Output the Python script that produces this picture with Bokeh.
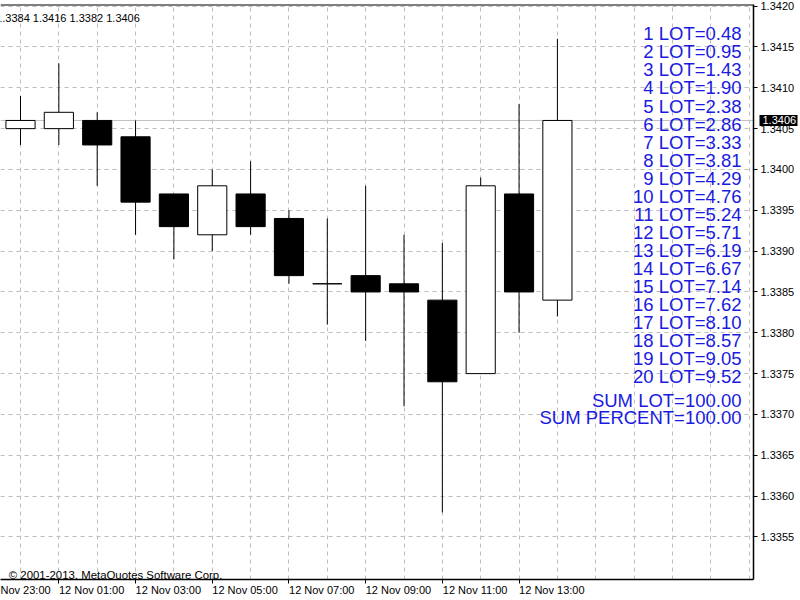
from bokeh.plotting import figure
from bokeh.models import (Range1d, SingleIntervalTicker, FixedTicker, PrintfTickFormatter,
                          CustomJSTickFormatter, LinearAxis, Label, Span, ColumnDataSource)
from bokeh.embed import file_html
from bokeh.resources import INLINE

# ---------------- data (EURUSD H1, 12 Nov) ----------------
hours  = [0, 1, 2, 3, 4, 5, 6, 7, 8, 9, 10, 11, 12, 13, 14]
opens  = [1.3405, 1.3405, 1.3406, 1.3404, 1.3397, 1.3392, 1.3397, 1.3394, 1.3386, 1.3387, 1.3386, 1.3384, 1.3375, 1.3397, 1.3384]
highs  = [1.3409, 1.3413, 1.3407, 1.3406, 1.3397, 1.3400, 1.3401, 1.3395, 1.3394, 1.3398, 1.3392, 1.3391, 1.3399, 1.3408, 1.3416]
lows   = [1.3403, 1.3403, 1.3398, 1.3392, 1.3389, 1.3390, 1.3392, 1.3386, 1.3381, 1.3379, 1.3371, 1.3358, 1.3375, 1.3380, 1.3382]
closes = [1.3406, 1.3407, 1.3403, 1.3396, 1.3393, 1.3398, 1.3393, 1.3387, 1.3386, 1.3385, 1.3385, 1.3374, 1.3398, 1.3385, 1.3406]

# time scale labels (the first one is cut by the left edge in the original)
tick_hours  = [-1, 1, 3, 5, 7, 9, 11, 13]
tick_labels = ["Nov 23:00", "12 Nov 01:00", "12 Nov 03:00", "12 Nov 05:00",
               "12 Nov 07:00", "12 Nov 09:00", "12 Nov 11:00", "12 Nov 13:00"]
price_ticks = [1.3355, 1.3360, 1.3365, 1.3370, 1.3375, 1.3380, 1.3385, 1.3390,
               1.3395, 1.3400, 1.3405, 1.3410, 1.3415, 1.3420]

lot_numbers = list(range(1, 21))
lot_values  = [0.48, 0.95, 1.43, 1.90, 2.38, 2.86, 3.33, 3.81, 4.29, 4.76,
               5.24, 5.71, 6.19, 6.67, 7.14, 7.62, 8.10, 8.57, 9.05, 9.52]
sum_lot = 100.00
sum_percent = 100.00
copyright_text = "\u00a9 2001-2013, MetaQuotes Software Corp."

# ---------------- layout ----------------
W, H = 800, 600
TOP, RIGHT, BOTTOM = 4, 47, 21
FW, FH = W - RIGHT, H - TOP - BOTTOM
PX_PER_BAR = 38.35
X0 = -20 / PX_PER_BAR
X1 = X0 + FW / PX_PER_BAR
Y1 = 1.34202
Y0 = 1.334979

def px_x(sx):
    return X0 + sx * (X1 - X0) / FW

def px_y(sy):
    return Y1 - (sy - TOP) * (Y1 - Y0) / FH

FONT = "Liberation Sans"

p = figure(width=W, height=H, x_range=Range1d(X0, X1), y_range=Range1d(Y0, Y1),
           output_backend="svg", toolbar_location=None, y_axis_location="right",
           min_border_left=0, min_border_top=TOP, min_border_right=RIGHT,
           min_border_bottom=BOTTOM)
p.title.visible = False
p.outline_line_color = None
p.background_fill_color = "white"
p.border_fill_color = "white"

# right price axis
ya = p.yaxis[0]
ya.ticker = FixedTicker(ticks=price_ticks)
ya.formatter = PrintfTickFormatter(format="%.4f")
ya.axis_line_color = "black"
ya.axis_line_width = 1.5
ya.major_tick_out = 4
ya.major_tick_in = 0
ya.minor_tick_line_color = None
ya.major_label_standoff = 3
ya.major_label_text_font = FONT
ya.major_label_text_font_size = "11px"
ya.major_label_text_color = "black"

# current price marker (outer axis drawn back over the price scale)
pa = LinearAxis(ticker=FixedTicker(ticks=[closes[-1]]),
                formatter=PrintfTickFormatter(format="%.4f"))
pa.axis_line_color = None
pa.minor_tick_line_color = None
pa.major_tick_line_color = "black"
pa.major_tick_line_width = 11
pa.major_tick_out = 0
pa.major_tick_in = 38
pa.major_label_standoff = -35
pa.major_label_text_font = FONT
pa.major_label_text_font_size = "11px"
pa.major_label_text_color = "white"
p.add_layout(pa, "right")

# bottom time axis: tick marks
xa = p.xaxis[0]
xa.ticker = FixedTicker(ticks=tick_hours)
xa.axis_line_color = "black"
xa.axis_line_width = 1.5
xa.major_tick_out = 4
xa.major_tick_in = 0
xa.minor_tick_line_color = None
xa.major_label_standoff = 0
xa.major_label_text_font_size = "0px"
xa.major_label_text_color = None

# bottom time axis: labels starting at their tick (MT4 style)
LABEL_SHIFT = 0.855
label_pos = [h + LABEL_SHIFT for h in tick_hours]
xl = LinearAxis(ticker=FixedTicker(ticks=label_pos),
                formatter=CustomJSTickFormatter(
                    args=dict(pos=label_pos, labs=tick_labels),
                    code="""
let b = 0, d = 1e9;
for (let i = 0; i < pos.length; i++) {
  const e = Math.abs(pos[i] - tick);
  if (e < d) { d = e; b = i; }
}
return labs[b];
"""))
xl.axis_line_color = None
xl.major_tick_line_color = None
xl.minor_tick_line_color = None
xl.major_tick_out = 0
xl.major_tick_in = 0
xl.major_label_standoff = 0
xl.major_label_text_font = FONT
xl.major_label_text_font_size = "11px"
xl.major_label_text_color = "black"
p.add_layout(xl, "below")

# grid
p.xgrid.ticker = SingleIntervalTicker(interval=1)
for g in (p.xgrid[0], p.ygrid[0]):
    g.grid_line_color = "#bdbdbd"
    g.grid_line_dash = "4 4"
    g.grid_line_width = 1

# top border
p.add_layout(Span(location=Y1, dimension="width", line_color="black", line_width=2))

# price line
p.add_layout(Span(location=closes[-1], dimension="width", line_color="#c0c0c0",
                  line_width=1, level="underlay"))

# candles
src = ColumnDataSource(dict(
    x=hours, low=lows, high=highs,
    top=[max(o, c) for o, c in zip(opens, closes)],
    bottom=[min(o, c) for o, c in zip(opens, closes)],
    fill=["white" if c >= o else "black" for o, c in zip(opens, closes)],
))
p.segment(x0="x", y0="low", x1="x", y1="high", source=src, line_color="black", line_width=1)
p.vbar(x="x", width=0.76, top="top", bottom="bottom", source=src,
       fill_color="fill", line_color="black", line_width=1)

# OHLC header
p.add_layout(Label(x=px_x(-4.4), y=px_y(17.3),
                   text=" ".join(f"{v:.4f}" for v in (opens[-1], highs[-1], lows[-1], closes[-1])),
                   text_font=FONT, text_font_size="11px", text_color="black",
                   text_align="left", text_baseline="alphabetic"))

# copyright
p.add_layout(Label(x=px_x(8.3), y=px_y(574), text=copyright_text,
                   text_font=FONT, text_font_size="11.4px", text_color="black",
                   text_align="left", text_baseline="alphabetic"))

# LOT table
BLUE = "#1a1ae0"
xr = px_x(741)
for i, (n, v) in enumerate(zip(lot_numbers, lot_values)):
    p.add_layout(Label(x=xr, y=px_y(33.3 + i * 18.05), text=f"{n} LOT={v:.2f}",
                       text_font=FONT, text_font_size="18.5px", text_color=BLUE,
                       text_align="right", text_baseline="alphabetic"))
p.add_layout(Label(x=xr, y=px_y(400), text=f"SUM LOT={sum_lot:.2f}",
                   text_font=FONT, text_font_size="18.5px", text_color=BLUE,
                   text_align="right", text_baseline="alphabetic"))
p.add_layout(Label(x=xr, y=px_y(417.3), text=f"SUM PERCENT={sum_percent:.2f}",
                   text_font=FONT, text_font_size="18.5px", text_color=BLUE,
                   text_align="right", text_baseline="alphabetic"))

open("out.html", "w").write(file_html(p, INLINE))
